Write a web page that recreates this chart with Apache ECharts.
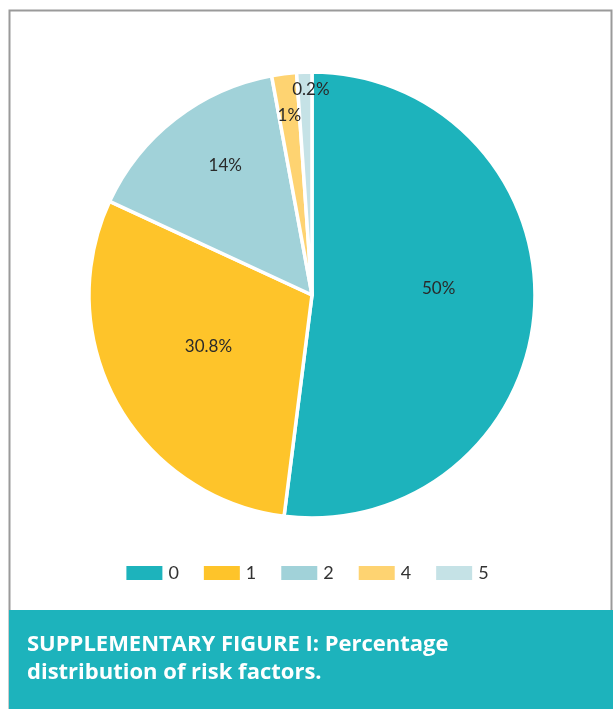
<!DOCTYPE html>
<html><head><meta charset="utf-8">
<script src="https://cdn.jsdelivr.net/npm/echarts@6/dist/echarts.min.js"></script>
<style>html,body{margin:0;padding:0;background:#fff}#c{width:613px;height:709px}</style>
</head><body><div id="c"></div>
<script>
// Data
const categories = ['0', '1', '2', '4', '5'];
const sliceValues = [52.0, 29.9, 15.2, 1.8, 1.1];      // share of the circle each slice covers
const labelTexts = ['50%', '30.8%', '14%', '1%', '0.2%']; // printed labels
const colors = ['#1db3bc', '#fec42a', '#a1d2d9', '#fed371', '#c5e2e6'];
const labelRadiusRatio = [0.56, 0.5, 0.73, 0.81, 0.93];
const labelNudgeX = [2, -6, 13, 0, 6];
const labelNudgeY = [-14, -3, -1, 0, 2];

const CX = 312, CY = 295, R = 223;
const chart = echarts.init(document.getElementById('c'));
chart.setOption({
  animation: false,
  color: colors,
  legend: {
    bottom: 122, left: 'center',
    itemWidth: 38, itemHeight: 16, itemGap: 23,
    icon: 'rect',
    textStyle: { fontFamily: 'Lato', fontSize: 18, color: '#333' },
    data: categories
  },
  graphic: [
    { type: 'rect', shape: { x: 9.5, y: 10.5, width: 602, height: 710 }, style: { fill: 'none', stroke: '#9a9a9a', lineWidth: 2 }, z: 0 },
    { type: 'rect', shape: { x: 9, y: 610, width: 604, height: 99 }, style: { fill: '#1db3bc' }, z: 1 },
    { type: 'text', left: 27, top: 631, style: { text: 'SUPPLEMENTARY FIGURE I: Percentage\ndistribution of risk factors.', fill: '#fff', font: 'bold 22px "Open Sans"', lineHeight: 28 }, z: 2 }
  ],
  series: [{
    type: 'pie',
    center: [CX, CY],
    radius: [0, R],
    startAngle: 90,
    clockwise: true,
    itemStyle: { borderColor: '#fff', borderWidth: 3.5 },
    label: {
      position: 'inside',
      fontFamily: 'Lato', fontSize: 17, color: '#2a2a2a',
      formatter: p => labelTexts[p.dataIndex]
    },
    labelLine: { show: false },
    labelLayout: function (p) {
      const r = p.labelRect;
      const lx = r.x + r.width / 2, ly = r.y + r.height / 2;
      const dx = lx - CX, dy = ly - CY;
      const d = Math.sqrt(dx * dx + dy * dy) || 1;
      const t = labelRadiusRatio[p.dataIndex] * R;
      const i = p.dataIndex;
      return { x: CX + dx / d * t + labelNudgeX[i], y: CY + dy / d * t + labelNudgeY[i], align: 'center', verticalAlign: 'middle' };
    },
    data: categories.map((c, i) => ({ name: c, value: sliceValues[i] }))
  }]
});
</script></body></html>
